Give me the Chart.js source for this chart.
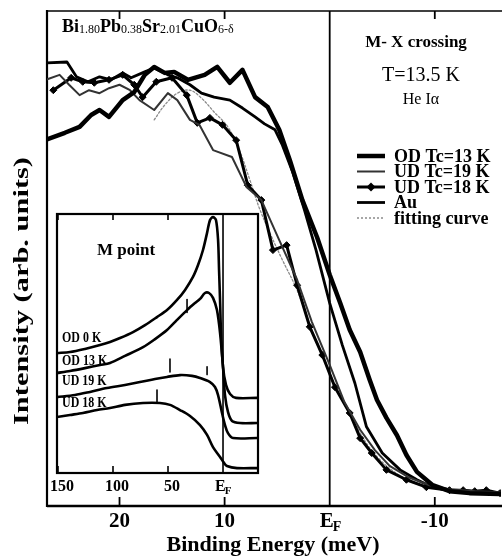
<!DOCTYPE html>
<html><head><meta charset="utf-8">
<script src="https://cdn.jsdelivr.net/npm/chart.js@4/dist/chart.umd.min.js"></script>
<style>
html,body{margin:0;padding:0;background:#fff;}
#wrap{position:relative;width:502px;height:559px;overflow:hidden;}
#main{position:absolute;left:0;top:0;}
#inset{position:absolute;left:50px;top:205px;}
</style></head><body>
<div id="wrap"><canvas id="main" width="502" height="559"></canvas><canvas id="inset" width="215" height="295"></canvas></div>
<script>
// ===== Main panel data (binding energy meV, intensity arb. units 0-100) =====
const odE = [27.0,25.2,23.8,22.7,21.9,21.0,19.7,18.6,17.6,16.7,15.7,14.8,13.5,11.9,10.7,9.5,8.3,7.1,5.9,4.8,3.8,2.6,1.2,0,-1.0,-1.9,-2.9,-3.8,-4.5,-5.4,-6.4,-7.3,-8.3,-9.8,-11.4,-13.3,-16.2];
const odI = [74.0,75.4,76.6,79.0,80.0,78.6,82.0,83.6,87.1,88.7,87.5,87.7,86.1,87.1,88.7,85.5,88.1,82.6,80.6,76.0,69.9,61.8,54.3,46.7,41.0,35.6,31.1,25.5,21.4,17.8,14.3,10.3,6.9,4.2,3.0,2.6,2.4];
const ud19E = [27.0,25.7,24.8,23.8,22.9,21.9,21.0,20.0,19.0,18.1,16.7,15.4,14.5,13.3,12.4,11.1,9.3,7.9,6.5,4.8,3.1,1.7,0,-1.4,-2.9,-4.3,-5.7,-7.6,-9.5,-11.4,-13.8,-16.2];
const ud19I = [86.1,87.1,85.1,83.0,84.0,83.4,84.4,85.1,84.0,82.0,80.0,83.4,82.0,78.0,77.0,71.9,70.5,64.4,61.8,53.7,45.7,37.2,28.5,21.0,15.4,11.3,8.1,5.7,4.2,3.4,3.0,2.8];
const ud18E = [26.3,24.6,23.5,22.4,21.0,19.7,18.6,17.8,16.5,15.0,13.6,12.6,11.4,10.2,8.9,7.8,6.5,5.4,4.1,3.1,1.9,0.7,-0.5,-1.9,-2.9,-4.0,-5.4,-7.3,-9.2,-11.4,-12.7,-13.8,-14.9,-16.2];
const ud18I = [84.0,86.5,85.7,85.5,86.1,87.1,85.1,82.6,85.7,86.5,83.0,77.4,78.4,77.0,73.9,64.8,61.8,51.7,52.7,44.6,36.2,30.5,24.0,18.8,13.7,10.7,7.3,5.3,3.8,3.2,3.2,3.0,3.2,2.6];
const auE = [27.0,25.0,24.1,23.0,21.9,20.8,19.7,18.9,17.6,16.7,15.4,14.5,13.3,12.2,11.0,9.5,8.3,7.1,6.2,5.2,4.5,3.5,2.4,1.3,0,-1.2,-2.4,-3.5,-5.0,-6.7,-8.3,-9.8,-11.4,-13.8,-16.2];
const auI = [89.5,89.7,86.7,85.7,86.7,86.1,87.5,86.5,87.7,88.5,87.1,86.5,85.1,83.4,82.6,82.0,80.4,78.6,77.2,76.0,72.9,67.3,59.8,51.7,41.0,32.5,24.8,16.0,10.7,7.3,5.3,3.8,3.2,2.8,2.6];
const fitE = [16.7,15.7,14.5,13.3,12.2,11.0,9.7,8.6,7.6,6.7,5.7,4.5,3.1,1.9,0.7,-0.5,-1.9,-3.3,-4.8,-6.7,-8.6,-11.4,-16.2];
const fitI = [78.0,81.0,83.4,84.0,82.4,79.6,76.6,71.9,65.9,60.2,55.2,49.7,43.6,36.6,30.5,24.4,18.8,13.3,9.3,6.1,4.2,3.2,2.8];
const seriesLabels = ['OD Tc=13 K','UD Tc=19 K','UD Tc=18 K','Au','fitting curve'];
const mainTickVals = [20, 10, -10];
const mainTickLabels = ['20', '10', '-10'];

// ===== Inset data (M point, binding energy meV) =====
const od0E = [150.9,139.1,125.5,111.8,102.7,93.6,81.8,70.9,60.0,50.9,41.8,34.5,27.3,22.7,18.2,14.5,11.8,9.1,6.4,4.5,3.6,2.7,1.8,0,-2.7,-6.4,-11.8,-30.9];
const od0I = [46.3,46.7,47.9,49.4,50.6,52.1,54.4,57.1,60.2,62.9,66.8,70.7,75.7,80.3,86.1,92.7,97.7,98.8,97.7,90.0,78.4,66.8,54.1,40.9,34.0,30.5,29.0,29.0];
const od13E = [150.9,139.1,125.5,111.8,102.7,89.1,72.7,61.8,50.9,41.8,32.7,25.5,20.9,16.4,12.7,9.1,5.5,2.7,0,-1.8,-4.5,-8.2,-15.5,-30.9];
const od13I = [38.6,39.4,40.5,41.7,42.5,45.2,48.6,51.7,55.2,59.1,62.9,65.6,67.2,69.5,69.5,67.6,62.9,54.1,40.9,30.1,23.6,20.1,19.3,19.3];
const ud19iE = [150.9,134.5,120.9,105.5,89.1,75.5,61.8,50.9,39.1,28.2,20.9,11.8,7.3,4.5,0.9,-1.8,-4.5,-9.1,-30.9];
const ud19iI = [29.3,30.1,31.3,32.8,34.0,35.1,36.3,37.1,37.8,37.5,36.7,35.1,33.2,30.1,23.2,18.5,15.4,13.5,13.5];
const ud18iE = [150.9,139.1,127.3,114.5,102.7,89.1,72.7,57.3,48.2,39.1,30.0,20.9,14.5,9.1,2.7,-0.9,-3.6,-12.7,-30.9];
const ud18iI = [21.6,22.4,23.2,24.3,25.1,26.3,27.0,27.0,26.3,24.3,22.0,18.5,14.7,10.0,6.2,3.9,2.7,1.9,1.9];
const insetLabels = ['OD 0 K','OD 13 K','UD 19 K','UD 18 K'];
const markE = [32.7, 48.2, 14.5, 60.0];
const markLo = [62, 39, 38, 27];
const markHi = [67, 44, 41, 32];
const insetTickVals = [150, 100, 50];
const insetTickLabels = ['150', '100', '50'];

// ===== helpers =====
const FAM = '"Liberation Serif", "Times New Roman", serif';
const F = (sz, bold = true) => (bold ? 'bold ' : '') + sz + 'px ' + FAM;
const pts = (E, I) => E.map((e, i) => ({x: e, y: I[i]}));
function seg(ctx, x1, y1, x2, y2){ ctx.beginPath(); ctx.moveTo(x1, y1); ctx.lineTo(x2, y2); ctx.stroke(); }

// ===== Main chart =====
const mainSets = [
  {label: seriesLabels[0], data: pts(odE, odI), borderColor: '#000', borderWidth: 4.5, pointRadius: 0},
  {label: seriesLabels[1], data: pts(ud19E, ud19I), borderColor: '#333', borderWidth: 2, pointRadius: 0},
  {label: seriesLabels[2], data: pts(ud18E, ud18I), borderColor: '#000', borderWidth: 3, pointRadius: 3.5, pointStyle: 'rectRot', pointBackgroundColor: '#000', pointBorderColor: '#000', pointBorderWidth: 1},
  {label: seriesLabels[3], data: pts(auE, auI), borderColor: '#000', borderWidth: 2.8, pointRadius: 0},
  {label: seriesLabels[4], data: pts(fitE, fitI), borderColor: '#8a8a8a', borderWidth: 1.3, borderDash: [2, 2], pointRadius: 0, tension: 0.35}
];

const mainDeco = {
  id: 'mainDeco',
  beforeDatasetsDraw(chart){
    const {ctx, chartArea: a, scales: {x}} = chart;
    ctx.save();
    ctx.strokeStyle = '#000'; ctx.lineCap = 'butt';
    ctx.lineWidth = 2.2; seg(ctx, a.left, a.top - 1, a.left, a.bottom + 1);
    ctx.lineWidth = 1.6; seg(ctx, a.left, a.top, 502, a.top);
    ctx.lineWidth = 2.4; seg(ctx, a.left, a.bottom, 502, a.bottom);
    const xf = x.getPixelForValue(0);
    ctx.lineWidth = 1.8; seg(ctx, xf, a.top, xf, a.bottom);
    ctx.lineWidth = 1.8;
    mainTickVals.forEach(v => {
      const px = x.getPixelForValue(v);
      seg(ctx, px, a.bottom, px, a.bottom - 9);
      seg(ctx, px, a.top, px, a.top + 8);
    });
    ctx.restore();
  },
  afterDraw(chart){
    const {ctx, chartArea: a, scales: {x}} = chart;
    ctx.save();
    ctx.fillStyle = '#000';
    // tick labels
    ctx.font = F(21); ctx.textAlign = 'center'; ctx.textBaseline = 'alphabetic';
    mainTickVals.forEach((v, i) => ctx.fillText(mainTickLabels[i], x.getPixelForValue(v), 527));
    // E_F
    const xf = x.getPixelForValue(0);
    ctx.textAlign = 'left';
    ctx.font = F(21); const we = ctx.measureText('E').width;
    ctx.fillText('E', xf - 10, 527);
    ctx.font = F(14); ctx.fillText('F', xf - 10 + we - 1, 531);
    // x title
    ctx.font = F(20); ctx.textAlign = 'center';
    const xt = 'Binding Energy (meV)';
    const xw = ctx.measureText(xt).width;
    ctx.save(); ctx.translate(273, 551); ctx.scale(213 / xw, 1); ctx.fillText(xt, 0, 0); ctx.restore();
    // y title
    const yt = 'Intensity (arb. units)';
    ctx.save(); ctx.translate(28, 291); ctx.rotate(-Math.PI / 2);
    ctx.font = F(21); const yw = ctx.measureText(yt).width;
    ctx.scale(268 / yw, 1); ctx.textAlign = 'center'; ctx.fillText(yt, 0, 0); ctx.restore();
    // formula
    const parts = [['Bi', 0], ['1.80', 1], ['Pb', 0], ['0.38', 1], ['Sr', 0], ['2.01', 1], ['CuO', 0], ['6-δ', 1]];
    let xx = 62; ctx.textAlign = 'left';
    parts.forEach(([s, sub]) => {
      ctx.font = sub ? F(12, false) : F(18);
      ctx.fillText(s, xx, sub ? 33 : 32);
      xx += ctx.measureText(s).width;
    });
    // right-side annotations
    ctx.textAlign = 'center';
    ctx.font = F(17); ctx.fillText('M- X crossing', 416, 47);
    ctx.font = F(20, false); ctx.fillText('T=13.5 K', 421, 81);
    ctx.font = F(16, false); ctx.fillText('He Iα', 421, 104);
    // legend
    ctx.textAlign = 'left'; ctx.textBaseline = 'middle';
    chart.data.datasets.forEach((ds, i) => {
      const yy = 156 + i * 15.5;
      ctx.save();
      ctx.strokeStyle = ds.borderColor; ctx.lineWidth = ds.borderWidth;
      ctx.setLineDash(ds.borderDash || []);
      seg(ctx, 357, yy, 385, yy);
      ctx.restore();
      if (ds.pointStyle === 'rectRot') {
        ctx.beginPath(); ctx.moveTo(371, yy - 4.5); ctx.lineTo(375.5, yy); ctx.lineTo(371, yy + 4.5); ctx.lineTo(366.5, yy); ctx.closePath(); ctx.fill();
      }
      ctx.font = F(18); ctx.fillText(ds.label, 394, yy + 1);
    });
    ctx.restore();
  }
};

new Chart(document.getElementById('main'), {
  type: 'line',
  data: {datasets: mainSets},
  options: {
    responsive: false, animation: false, devicePixelRatio: 1,
    layout: {autoPadding: false, padding: {left: 47, right: 1, top: 11, bottom: 53}},
    elements: {line: {tension: 0, borderCapStyle: 'round', borderJoinStyle: 'round'}},
    scales: {
      x: {type: 'linear', display: false, reverse: true, min: -16.3, max: 26.9},
      y: {type: 'linear', display: false, min: 0, max: 100}
    },
    plugins: {legend: {display: false}, tooltip: {enabled: false}}
  },
  plugins: [mainDeco]
});

// ===== Inset chart =====
const insetSets = [
  {label: insetLabels[0], data: pts(od0E, od0I)},
  {label: insetLabels[1], data: pts(od13E, od13I)},
  {label: insetLabels[2], data: pts(ud19iE, ud19iI)},
  {label: insetLabels[3], data: pts(ud18iE, ud18iI)}
].map(d => Object.assign(d, {borderColor: '#000', borderWidth: 2.6, pointRadius: 0, tension: 0.3}));
markE.forEach((e, i) => insetSets.push({label: 'mark', data: [{x: e, y: markLo[i]}, {x: e, y: markHi[i]}], borderColor: '#000', borderWidth: 1.6, pointRadius: 0}));

const insetDeco = {
  id: 'insetDeco',
  beforeDatasetsDraw(chart){
    const {ctx, chartArea: a, scales: {x}} = chart;
    ctx.save(); ctx.strokeStyle = '#000';
    ctx.lineWidth = 2.2;
    ctx.strokeRect(a.left, a.top, a.right - a.left, a.bottom - a.top);
    const xf = x.getPixelForValue(0);
    ctx.lineWidth = 1.6; seg(ctx, xf, a.top, xf, a.bottom);
    ctx.lineWidth = 1.6;
    insetTickVals.forEach(v => {
      const px = x.getPixelForValue(v);
      seg(ctx, px, a.bottom, px, a.bottom - 7);
      seg(ctx, px, a.top, px, a.top + 6);
    });
    ctx.restore();
  },
  afterDraw(chart){
    const {ctx, chartArea: a, scales: {x}} = chart;
    ctx.save(); ctx.fillStyle = '#000';
    ctx.font = F(17); ctx.textAlign = 'center'; ctx.textBaseline = 'alphabetic';
    ctx.fillText('M point', 76, 50);
    ctx.font = F(13); ctx.textAlign = 'left';
    const ly = [137, 160, 180, 202];
    insetLabels.forEach((t, i) => {
      ctx.save(); ctx.translate(12, ly[i]); ctx.scale(0.92, 1.05); ctx.fillText(t, 0, 0); ctx.restore();
    });
    ctx.font = F(16); ctx.textAlign = 'center';
    insetTickVals.forEach((v, i) => ctx.fillText(insetTickLabels[i], x.getPixelForValue(v) + 4, 286));
    const xf = x.getPixelForValue(0);
    ctx.textAlign = 'left';
    ctx.font = F(16); const we = ctx.measureText('E').width;
    ctx.fillText('E', xf - 8, 286);
    ctx.font = F(11); ctx.fillText('F', xf - 8 + we - 1, 289);
    ctx.restore();
  }
};

new Chart(document.getElementById('inset'), {
  type: 'line',
  data: {datasets: insetSets},
  options: {
    responsive: false, animation: false, devicePixelRatio: 1,
    layout: {autoPadding: false, padding: {left: 7, right: 7, top: 9, bottom: 27}},
    elements: {line: {borderCapStyle: 'round', borderJoinStyle: 'round'}},
    scales: {
      x: {type: 'linear', display: false, reverse: true, min: -31.8, max: 150.9},
      y: {type: 'linear', display: false, min: 0, max: 100}
    },
    plugins: {legend: {display: false}, tooltip: {enabled: false}}
  },
  plugins: [insetDeco]
});
</script>
</body></html>
